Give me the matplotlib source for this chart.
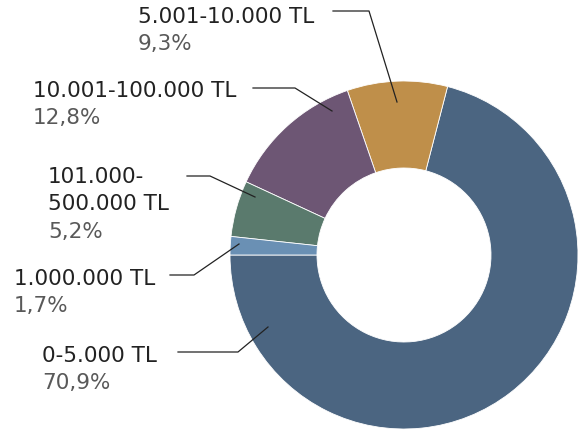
import matplotlib.pyplot as plt

# Dagilim verisi
labels = ['0-5.000 TL', '5.001-10.000 TL', '10.001-100.000 TL', '101.000-\n500.000 TL', '1.000.000 TL']
shares = [70.9, 9.3, 12.8, 5.2, 1.7]
pct_text = ['70,9%', '9,3%', '12,8%', '5,2%', '1,7%']
colors = ['#4b6581', '#bf8f4a', '#6d5674', '#5a7a6d', '#6a90b4']

W, H = 580, 435
fig = plt.figure(figsize=(5.8, 4.35), dpi=100)
ax = fig.add_axes([0, 0, 1, 1])

cx, cy, r = 404, H - 256, 174
ax.pie(shares, colors=colors, startangle=180, counterclock=True, center=(cx, cy),
       radius=r, frame=True, wedgeprops=dict(width=r * 0.5, linewidth=0.6, edgecolor='white'))
ax.set_xlim(0, W)
ax.set_ylim(0, H)
ax.set_aspect('equal')
ax.axis('off')

# text position (left, baseline of first line) and leader line points, in pixels from top
lab_pos = [(138, 23), (33, 97), (48, 183), (14, 285), (42, 362)]
lab_pos = [lab_pos[4], lab_pos[0], lab_pos[1], lab_pos[2], lab_pos[3]]
leaders = [
    [(178, 353), (238, 353), (268, 328)],
    [(333, 12), (369, 12), (397, 103)],
    [(253, 89), (295, 89), (332, 112)],
    [(187, 177), (210, 177), (255, 198)],
    [(170, 276), (194, 276), (239, 245)],
]
font = 'DejaVu Sans'
fs = 15.5
lh = 27.5
for i, name in enumerate(labels):
    x, yb = lab_pos[i]
    lines = name.split('\n')
    for j, ln in enumerate(lines):
        ax.text(x, H - (yb + j * lh), ln, fontsize=fs, family=font, color='#222222',
                ha='left', va='baseline')
    ax.text(x, H - (yb + len(lines) * lh), pct_text[i], fontsize=fs, family=font,
            color='#595959', ha='left', va='baseline')
    pts = leaders[i]
    ax.plot([p[0] for p in pts], [H - p[1] for p in pts], color='#222222', lw=0.9)

fig.savefig('out.png', dpi=100)
